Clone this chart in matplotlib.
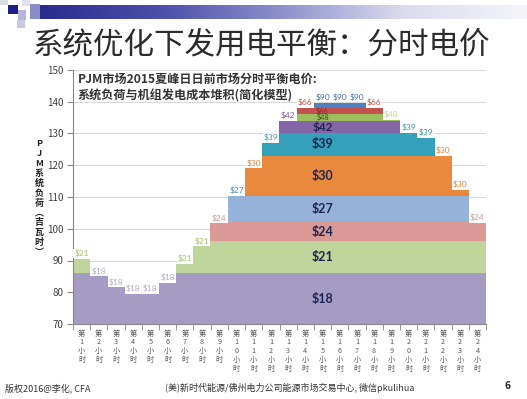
import matplotlib
matplotlib.use("Agg")
import matplotlib.pyplot as plt
import numpy as np
from matplotlib.patches import Rectangle
from matplotlib.colors import LinearSegmentedColormap

plt.rcParams['font.family'] = ['Noto Sans CJK SC', 'DejaVu Sans']

# ---------------- data ----------------
hours = list(range(1, 25))
load = [90.5, 85, 81.5, 79.5, 79.5, 83, 89, 94.5, 101.7, 110.3, 119, 127,
        134, 138, 139.6, 139.6, 139.6, 138, 134.4, 130.2, 128.7, 123, 112.2, 101.8]
marginal_price = [21, 18, 18, 18, 18, 18, 21, 21, 24, 27, 30, 39,
                  42, 66, 90, 90, 90, 66, 48, 39, 39, 30, 30, 24]
tier_prices = [18, 21, 24, 27, 30, 39, 42, 48, 66, 90]
tier_tops = [86, 96, 102, 110.3, 123, 130.2, 134, 136.1, 138, 139.6]

tier_colors = ['#A59BC3', '#C0D59B', '#DA9997', '#96B2D8', '#E8893D',
               '#34A0B9', '#8466A8', '#9DBE5C', '#C3514E', '#4F80BF']
step_label_colors = {18: '#B2AACB', 21: '#A7C36B', 24: '#C99897', 27: '#4C86BA',
                     30: '#D9843A', 39: '#3A9AAE', 42: '#7A5FA0', 48: '#C5D69E',
                     66: '#C0504D', 90: '#3F70B0'}

title = '系统优化下发用电平衡：分时电价'
chart_title = 'PJM市场2015夏峰日日前市场分时平衡电价:\n系统负荷与机组发电成本堆积(简化模型)'
ylabel_chars = ['P', 'J', 'M', '系', '统', '负', '荷', '︵', '吉', '瓦', '时', '︶']
footer_left = '版权2016@李化, CFA'
footer_mid = '(美)新时代能源/佛州电力公司能源市场交易中心, 微信pkulihua'
page_no = '6'

W, H = 527, 399
fig = plt.figure(figsize=(W / 100, H / 100), dpi=100)
fig.patch.set_facecolor('white')


def P(x, y):
    return x / W, 1 - y / H


# ---------------- header decoration ----------------
hax = fig.add_axes([40 / W, 1 - 19 / H, (W - 40) / W, 14 / H])
grad = np.linspace(0, 1, 256)[None, :]
cmap = LinearSegmentedColormap.from_list('hdr', ['#2A2C8E', '#4C50A8', '#8E91CC', '#DCDCEE', '#F4F4FA'])
hax.imshow(grad, aspect='auto', cmap=cmap, extent=[0, 1, 0, 1])
hax.set_axis_off()
for (x0, y0, w, h, c) in [(0, 0, 8, 5, '#DADAE6'), (8, 5, 10, 9, '#1E2088'),
                          (18, 10, 8, 10, '#B6B6DA'), (17, 20, 8, 8, '#C8C8E2'),
                          (30, 4, 10, 15, '#8A8CC6'), (22, 0, 8, 6, '#E0E0EE')]:
    fig.patches.append(Rectangle(P(x0, y0 + h), w / W, h / H, transform=fig.transFigure,
                                 facecolor=c, edgecolor='none'))

fig.text(*P(262, 45), title, ha='center', va='center', fontsize=22, color='#2B2B2B')

# ---------------- main chart ----------------
ax = fig.add_axes([73 / W, 1 - 324 / H, (486 - 73) / W, (324 - 70) / H])
x = np.array(hours)
load_arr = np.array(load)
lower = 0.0
for top, c in zip(tier_tops, tier_colors):
    h = np.clip(load_arr, lower, top) - lower
    ax.bar(x, h, bottom=lower, width=1.02, color=c, linewidth=0, zorder=2)
    lower = top

ax.set_xlim(0.5, 24.5)
ax.set_ylim(70, 150)
ax.set_yticks(range(70, 151, 10))
ax.yaxis.grid(True, color='#D9D9D9', linewidth=0.8, zorder=0)
ax.set_axisbelow(True)
for s in ['top', 'right']:
    ax.spines[s].set_visible(False)
for s in ['left', 'bottom']:
    ax.spines[s].set_color('#888888')
    ax.spines[s].set_linewidth(0.8)
ax.tick_params(axis='y', length=4, color='#888888', labelsize=7, labelcolor='#404040', pad=3)
ax.set_xticks(hours)
ax.set_xticklabels(['\n'.join('第' + str(hh) + '小时') for hh in hours],
                   fontsize=5.2, color='#595959', linespacing=1.15)
ax.tick_params(axis='x', which='major', length=0, pad=4)
ax.set_xticks(np.arange(0.5, 25, 1), minor=True)
ax.tick_params(axis='x', which='minor', length=4, color='#888888')

# step labels
for hh, ld, p in zip(hours, load, marginal_price):
    ax.annotate(f'${p}', (hh, ld), xytext=(0, 1.2), textcoords='offset points',
                ha='center', va='bottom', fontsize=6, color=step_label_colors[p],
                family=['Lato', 'DejaVu Sans'], zorder=6,
                bbox=dict(boxstyle='square,pad=0.1', facecolor='white', edgecolor='none'))

# in-layer labels
bottoms = [70] + tier_tops[:-1]
for p, b, t in zip(tier_prices, bottoms, tier_tops):
    if p == 90:
        continue
    mid = (b + t) / 2
    if p in (48, 66):
        col = '#3D4A1C' if p == 48 else '#8A2420'
        ax.text(15, mid, f'${p}', ha='center', va='center', fontsize=5.2, color=col,
                family=['Lato', 'DejaVu Sans'], zorder=5)
    else:
        ax.text(15, mid, f'${p}', ha='center', va='center', fontsize=9 if p != 42 else 8.5,
                fontweight='bold', color='#1E2452', family=['Lato', 'DejaVu Sans'], zorder=5)

ax.text(0.012, 0.99, chart_title, transform=ax.transAxes, ha='left', va='top',
        fontsize=8.7, fontweight='bold', color='#333333', linespacing=1.35, zorder=7)

# y label (stacked characters)
fig.text(*P(39, 198), '\n'.join(ylabel_chars), ha='center', va='center',
         fontsize=6.5, fontweight='bold', color='#222222', linespacing=1.12)

# footer
fig.text(*P(5, 388), footer_left, ha='left', va='center', fontsize=6.5, color='#333333')
fig.text(*P(290, 388), footer_mid, ha='center', va='center', fontsize=6.5, color='#333333')
fig.text(*P(508, 386), page_no, ha='center', va='center', fontsize=7.5,
         fontweight='bold', color='#222222')

fig.savefig('out.png', dpi=100, facecolor='white')
